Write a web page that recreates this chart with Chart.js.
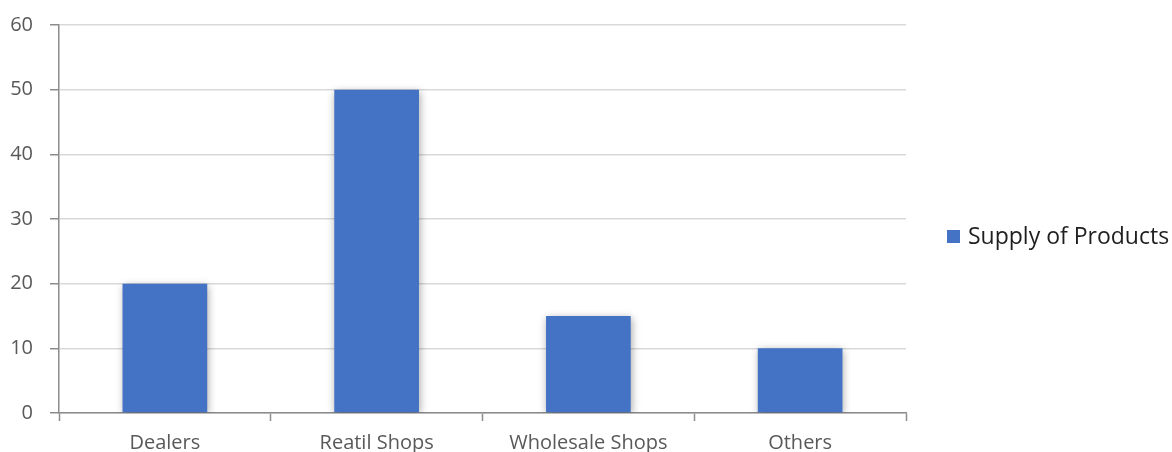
<!DOCTYPE html>
<html>
<head>
<meta charset="utf-8">
<script src="https://cdn.jsdelivr.net/npm/chart.js@4/dist/chart.umd.min.js"></script>
<style>
  html, body { margin: 0; padding: 0; background: #fff; }
  #wrap { width: 1172px; height: 452px; position: relative; }
</style>
</head>
<body>
<div id="wrap"><canvas id="myChart"></canvas></div>
<script>
// ***** Data *****
const categories = ['Dealers', 'Reatil Shops', 'Wholesale Shops', 'Others'];
const supplyValues = [20, 50, 15, 10];
const seriesName = 'Supply of Products';
const yTicks = { min: 0, max: 60, step: 10 };

const barColor = '#4472C4';
const textColor = '#595959';
const fontFamily = "'Open Sans', 'DejaVu Sans', sans-serif";

// soft shadow behind the bars
const barShadow = {
  id: 'barShadow',
  beforeDatasetsDraw(chart) {
    const ctx = chart.ctx;
    ctx.save();
    ctx.shadowColor = 'rgba(0, 0, 0, 0.35)';
    ctx.shadowBlur = 8;
    ctx.shadowOffsetX = 1;
    ctx.shadowOffsetY = 2;
  },
  afterDatasetsDraw(chart) {
    chart.ctx.restore();
  }
};

// legend on the right side
const sideLegend = {
  id: 'sideLegend',
  afterDraw(chart) {
    const ctx = chart.ctx;
    const x = 947;
    const y = 237;
    ctx.save();
    ctx.fillStyle = barColor;
    ctx.fillRect(x, y - 7, 13, 13);
    ctx.fillStyle = '#1f1f1f';
    ctx.font = '23px ' + fontFamily;
    ctx.textBaseline = 'middle';
    ctx.textAlign = 'left';
    ctx.fillText(chart.data.datasets[0].label, x + 21, y);
    ctx.restore();
  }
};

const configChart = {
  type: 'bar',
  data: {
    labels: categories,
    datasets: [
      {
        label: seriesName,
        data: supplyValues,
        backgroundColor: barColor,
        borderWidth: 0,
        categoryPercentage: 0.4,
        barPercentage: 1
      }
    ]
  },
  options: {
    responsive: false,
    animation: false,
    layout: { padding: { top: 25, right: 266, left: 0, bottom: 0 } },
    plugins: {
      legend: { display: false },
      tooltip: { enabled: false }
    },
    scales: {
      x: {
        grid: {
          offset: true,
          drawOnChartArea: false,
          drawTicks: true,
          tickLength: 8,
          tickColor: '#8c8c8c',
          tickWidth: 1.5
        },
        border: { color: '#8c8c8c', width: 1.5 },
        ticks: {
          color: textColor,
          padding: 10,
          font: { family: fontFamily, size: 20 }
        },
        afterFit(scale) { scale.height = 39; }
      },
      y: {
        min: yTicks.min,
        max: yTicks.max,
        grid: {
          color: '#d9d9d9',
          lineWidth: 1.5,
          tickLength: 9,
          tickColor: '#8c8c8c',
          tickWidth: 1.5
        },
        border: { color: '#8c8c8c', width: 1.5 },
        ticks: {
          stepSize: yTicks.step,
          color: textColor,
          padding: 17,
          font: { family: fontFamily, size: 20 }
        },
        afterFit(scale) {
          scale.width = 59;
          scale.paddingTop = 0;
          scale.paddingBottom = 0;
        }
      }
    }
  },
  plugins: [barShadow, sideLegend]
};

const canvas = document.getElementById('myChart');
canvas.width = 1172;
canvas.height = 452;
const salesChart = new Chart(canvas, configChart);
</script>
</body>
</html>
